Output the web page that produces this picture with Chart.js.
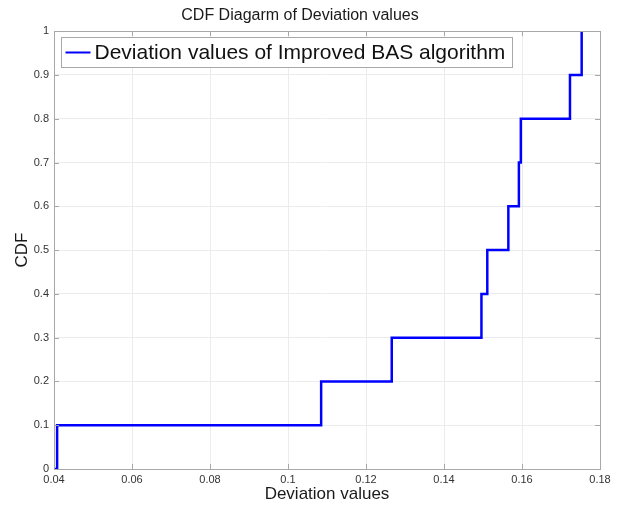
<!DOCTYPE html>
<html>
<head>
<meta charset="utf-8">
<script src="https://cdn.jsdelivr.net/npm/chart.js@4"></script>
<style>
  html, body { margin: 0; padding: 0; background: #fff; }
  #wrap { width: 618px; height: 505px; }
</style>
</head>
<body>
<div id="wrap"><canvas id="cdfChart"></canvas></div>
<script>
const seriesLabel = 'Deviation values of Improved BAS algorithm';
const deviationValues = [0.0408, 0.1085, 0.1266, 0.1496, 0.1511, 0.1565, 0.1592, 0.1597, 0.1723, 0.1753];
const cdfValues = [0.1, 0.2, 0.3, 0.4, 0.5, 0.6, 0.7, 0.8, 0.9, 1.0];
const xTicks = [0.04, 0.06, 0.08, 0.1, 0.12, 0.14, 0.16, 0.18];
const yTicks = [0, 0.1, 0.2, 0.3, 0.4, 0.5, 0.6, 0.7, 0.8, 0.9, 1];

const FONT = "'Liberation Sans', Arial, Helvetica, sans-serif";
const fmt = v => String(parseFloat(v.toFixed(2)));

// empirical cdf: starts at 0 on the left edge, steps up at each sample
const points = [{ x: xTicks[0], y: 0 }].concat(
  deviationValues.map((v, i) => ({ x: v, y: cdfValues[i] }))
);

// matlab style box: top/right border and inward tick marks
const boxTicks = {
  id: 'boxTicks',
  afterDatasetsDraw(chart) {
    const { ctx, chartArea: a, scales: { x, y } } = chart;
    ctx.save();
    ctx.strokeStyle = '#a8a8a8';
    ctx.lineWidth = 1;
    ctx.beginPath();
    xTicks.forEach(v => {
      const px = Math.round(x.getPixelForValue(v)) + 0.5;
      ctx.moveTo(px, a.top); ctx.lineTo(px, a.top + 5);
      ctx.moveTo(px, a.bottom); ctx.lineTo(px, a.bottom - 5);
    });
    yTicks.forEach(v => {
      const py = Math.round(y.getPixelForValue(v)) + 0.5;
      ctx.moveTo(a.left, py); ctx.lineTo(a.left + 5, py);
      ctx.moveTo(a.right, py); ctx.lineTo(a.right - 5, py);
    });
    ctx.stroke();
    ctx.strokeRect(Math.round(a.left) + 0.5, Math.round(a.top) + 0.5,
      Math.round(a.right - a.left), Math.round(a.bottom - a.top));
    ctx.restore();
  }
};

// legend drawn inside the axes, top-left
const insideLegend = {
  id: 'insideLegend',
  afterDraw(chart) {
    const { ctx, chartArea: a } = chart;
    const ds = chart.data.datasets[0];
    ctx.save();
    ctx.font = '21px ' + FONT;
    const w = ctx.measureText(ds.label).width;
    const bx = Math.round(a.left) + 7.5, by = Math.round(a.top) + 6.5;
    const bw = Math.round(w + 40), bh = 30;
    ctx.fillStyle = '#fff';
    ctx.fillRect(bx, by, bw, bh);
    ctx.strokeStyle = '#a8a8a8';
    ctx.lineWidth = 1;
    ctx.strokeRect(bx, by, bw, bh);
    ctx.strokeStyle = ds.borderColor;
    ctx.lineWidth = 2;
    ctx.beginPath();
    ctx.moveTo(bx + 4, by + bh / 2);
    ctx.lineTo(bx + 29, by + bh / 2);
    ctx.stroke();
    ctx.fillStyle = '#111';
    ctx.textBaseline = 'middle';
    ctx.fillText(ds.label, bx + 33, by + bh / 2 + 1);
    ctx.restore();
  }
};

new Chart(document.getElementById('cdfChart'), {
  type: 'scatter',
  data: {
    datasets: [{
      label: seriesLabel,
      data: points,
      showLine: true,
      stepped: 'before',
      borderColor: '#0000ff',
      borderWidth: 2.5,
      pointRadius: 0,
      fill: false
    }]
  },
  options: {
    responsive: true,
    maintainAspectRatio: false,
    animation: false,
    layout: { padding: { left: 0, right: 18, top: 0, bottom: 0 } },
    plugins: {
      legend: { display: false },
      tooltip: { enabled: false },
      title: {
        display: true,
        text: 'CDF Diagarm of Deviation values',
        color: '#1a1a1a',
        font: { family: FONT, size: 16, weight: 'normal' },
        padding: { top: 6, bottom: 6 }
      }
    },
    scales: {
      x: {
        type: 'linear',
        min: 0.04,
        max: 0.18,
        afterBuildTicks: s => { s.ticks = xTicks.map(v => ({ value: v })); },
        afterFit: s => { s.height = 36; },
        grid: { color: '#ececec', drawTicks: false },
        border: { display: true, color: '#a8a8a8' },
        ticks: {
          callback: v => fmt(v),
          color: '#333',
          font: { family: FONT, size: 11 },
          padding: 4,
          maxRotation: 0
        },
        title: {
          display: true,
          text: 'Deviation values',
          color: '#1a1a1a',
          font: { family: FONT, size: 17 },
          padding: { top: 0, bottom: 0 }
        }
      },
      y: {
        type: 'linear',
        min: 0,
        max: 1,
        afterBuildTicks: s => { s.ticks = yTicks.map(v => ({ value: v })); },
        afterFit: s => { s.width = 54; },
        grid: { color: '#ececec', drawTicks: false },
        border: { display: true, color: '#a8a8a8' },
        ticks: {
          callback: v => fmt(v),
          color: '#333',
          font: { family: FONT, size: 11 },
          padding: 5
        },
        title: {
          display: true,
          text: 'CDF',
          color: '#1a1a1a',
          font: { family: FONT, size: 17 },
          padding: { top: 12, bottom: 0 }
        }
      }
    }
  },
  plugins: [boxTicks, insideLegend]
});
</script>
</body>
</html>
